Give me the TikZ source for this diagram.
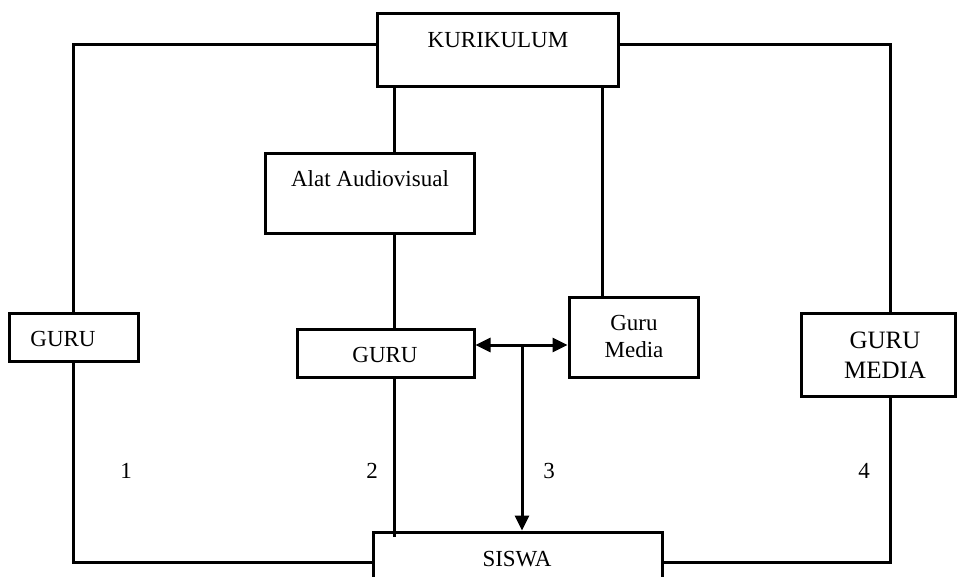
\documentclass[tikz,border=0pt]{standalone}
\usepackage{fontspec}
\setmainfont{Liberation Serif}
\usetikzlibrary{arrows.meta}

\tikzset{
  box/.style={draw, line width=3pt, inner sep=0pt, rectangle},
  txt/.style={inner sep=0pt, anchor=base, font=\fontsize{23}{27}\selectfont},
  bigtxt/.style={inner sep=0pt, anchor=base, font=\fontsize{25}{30}\selectfont},
  link/.style={line width=3pt},
  arr/.style={line width=3pt, -{Triangle[length=15pt,width=14pt]}}
}

\begin{document}
\begin{tikzpicture}[x=1pt,y=-1pt]
  \clip (0,0) rectangle (958,576);
  \fill[white] (0,0) rectangle (958,576);

  % boxes
  \node[box, minimum width=241pt, minimum height=73pt] (kur)   at (497.5,49.5) {};
  \node[box, minimum width=209pt, minimum height=80pt] (alat)  at (369.5,193) {};
  \node[box, minimum width=177pt, minimum height=48pt] (gurum) at (385.5,353) {};
  \node[box, minimum width=129pt, minimum height=80pt] (gm)    at (633.5,337) {};
  \node[box, minimum width=129pt, minimum height=48pt] (gurul) at (73.5,337) {};
  \node[box, minimum width=154pt, minimum height=83pt] (gmr)   at (878,354.5) {};
  \node[box, minimum width=289pt, minimum height=60pt] (siswa) at (517.5,562) {};

  % box texts
  \node[txt] (tkur) at (498,47) {KURIKULUM};
  \node[txt] (talat) at (370,186) {Alat Audiovisual};
  \node[txt] (tgurum) at (385,362) {GURU};
  \node[txt] (tgm1) at (634,330) {Guru};
  \node[txt] (tgm2) at (634,357) {Media};
  \node[txt] (tgurul) at (63,346) {GURU};
  \node[bigtxt] (tgmr1) at (885,348) {GURU};
  \node[bigtxt] (tgmr2) at (885,378) {MEDIA};
  \node[txt] (tsiswa) at (517,566) {SISWA};

  % path numbers
  \node[txt] (n1) at (126,478) {1};
  \node[txt] (n2) at (372,478) {2};
  \node[txt] (n3) at (549,478) {3};
  \node[txt] (n4) at (864,478) {4};

  % corner and junction points
  \coordinate (lt) at (73,44);
  \coordinate (lb) at (73,562);
  \coordinate (rt) at (890,44);
  \coordinate (rb) at (890,562);
  \coordinate (ka) at (394,86);
  \coordinate (kb) at (602,86);
  \coordinate (g2) at (394,537);
  \coordinate (j)  at (522,345);

  % path 1
  \draw[link] (kur.west |- lt) -- (lt) -- (lt |- gurul.north);
  \draw[link] (lb |- gurul.south) -- (lb) -- (siswa.west |- lb);
  % path 4
  \draw[link] (kur.east |- rt) -- (rt) -- (rt |- gmr.north);
  \draw[link] (rb |- gmr.south) -- (rb) -- (siswa.east |- rb);
  % path 2
  \draw[link] (ka) -- (ka |- alat.north);
  \draw[link] (ka |- alat.south) -- (ka |- gurum.north);
  \draw[link] (g2 |- gurum.south) -- (g2);
  % path 3
  \draw[link] (kb) -- (kb |- gm.north);
  \draw[arr] (j) -- (j -| gurum.east);
  \draw[arr] (j) -- (j -| gm.west);
  \draw[arr] (j) -- (j |- siswa.north);
\end{tikzpicture}
\end{document}
